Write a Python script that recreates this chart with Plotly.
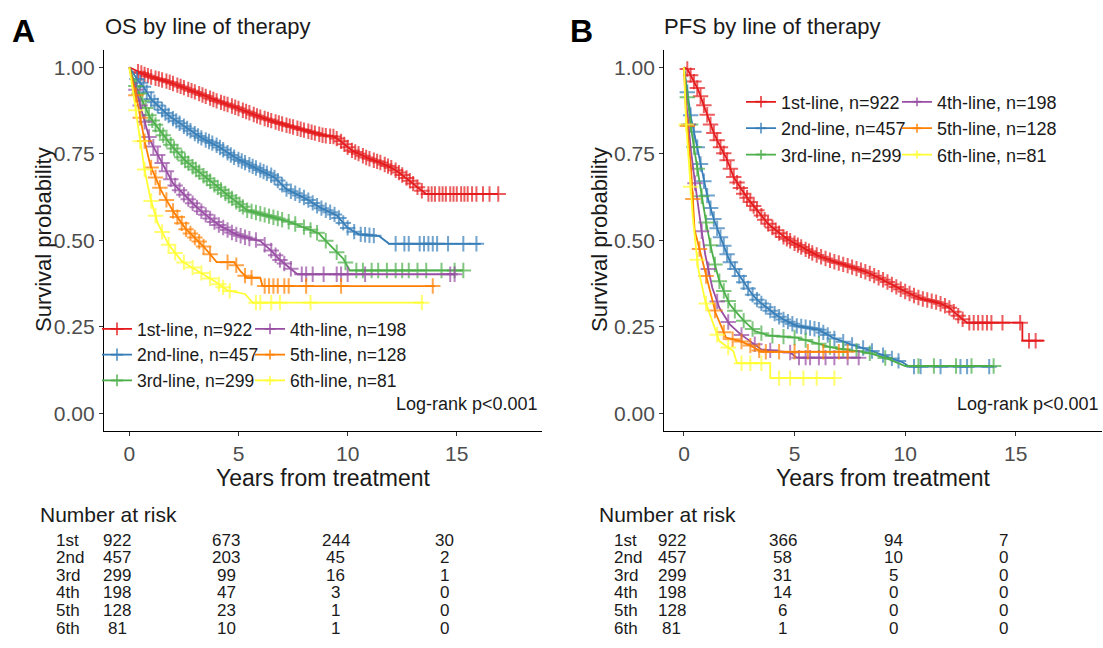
import numpy as np
import plotly.graph_objects as go

FONT = "Liberation Sans, Arial, Helvetica, sans-serif"
W, H = 1103, 648

# ---------------- data ----------------
groups = ["1st-line, n=922", "2nd-line, n=457", "3rd-line, n=299",
          "4th-line, n=198", "5th-line, n=128", "6th-line, n=81"]
colors = ["#E41A1C", "#377EB8", "#4DAF4A", "#984EA3", "#FF7F00", "#FFFF33"]
risk_rows = ["1st", "2nd", "3rd", "4th", "5th", "6th"]
risk_times = [0, 5, 10, 15]
os_risk = [[922, 673, 244, 30], [457, 203, 45, 2], [299, 99, 16, 1],
           [198, 47, 3, 0], [128, 23, 1, 0], [81, 10, 1, 0]]
pfs_risk = [[922, 366, 94, 7], [457, 58, 10, 0], [299, 31, 5, 0],
            [198, 14, 0, 0], [128, 6, 0, 0], [81, 1, 0, 0]]

# OS curves (years, survival probability)
os_1st_t = [0, 0.3, 1.0, 1.7, 2.1, 3.2, 4.0, 4.8, 6.0, 6.9, 7.8, 8.9, 9.35, 9.7, 10.1, 10.9, 11.5, 12.1, 12.7, 13.3, 13.6, 16.9]
os_1st_s = [1.0, 0.99, 0.972, 0.96, 0.951, 0.924, 0.903, 0.886, 0.856, 0.838, 0.822, 0.803, 0.80, 0.786, 0.763, 0.738, 0.725, 0.707, 0.68, 0.648, 0.634, 0.634]
os_2nd_t = [0, 0.3, 0.64, 0.97, 1.7, 2.4, 3.24, 4.0, 4.8, 5.8, 6.6, 7.2, 8.06, 8.7, 9.5, 10.0, 10.5, 11.45, 11.9, 16.1]
os_2nd_s = [1.0, 0.97, 0.945, 0.91, 0.865, 0.834, 0.798, 0.775, 0.74, 0.709, 0.685, 0.648, 0.622, 0.596, 0.572, 0.536, 0.518, 0.512, 0.49, 0.49]
os_3rd_t = [0, 0.2, 0.48, 0.94, 1.71, 2.47, 3.24, 4.0, 4.77, 5.4, 6.29, 7.2, 8.1, 8.7, 9.35, 9.8, 10.1, 15.3]
os_3rd_s = [1.0, 0.96, 0.92, 0.856, 0.79, 0.735, 0.695, 0.655, 0.618, 0.587, 0.572, 0.556, 0.536, 0.519, 0.475, 0.447, 0.413, 0.413]
os_4th_t = [0, 0.15, 0.33, 0.64, 0.94, 1.4, 2.0, 2.6, 3.24, 4.0, 4.77, 5.5, 6.0, 6.45, 6.9, 7.3, 7.7, 14.9]
os_4th_s = [1.0, 0.96, 0.93, 0.856, 0.79, 0.735, 0.665, 0.625, 0.587, 0.548, 0.52, 0.505, 0.498, 0.474, 0.443, 0.423, 0.402, 0.402]
os_5th_t = [0, 0.16, 0.4, 0.65, 0.97, 1.45, 1.94, 2.6, 3.24, 3.7, 4.0, 4.8, 5.1, 5.4, 6.0, 6.1, 14.0]
os_5th_s = [1.0, 0.96, 0.89, 0.80, 0.715, 0.645, 0.59, 0.532, 0.494, 0.46, 0.437, 0.437, 0.41, 0.392, 0.392, 0.368, 0.368]
os_6th_t = [0, 0.16, 0.4, 0.65, 0.97, 1.3, 1.77, 2.4, 3.2, 4.0, 4.5, 5.3, 5.65, 13.5]
os_6th_s = [1.0, 0.94, 0.83, 0.72, 0.62, 0.55, 0.49, 0.44, 0.41, 0.378, 0.355, 0.345, 0.32, 0.32]

# OS censoring times
os_1st_cens = [0.4, 0.55, 0.7, 0.85, 1.0, 1.2, 1.35, 1.5, 1.7, 1.85, 2.0, 2.2, 2.35, 2.5, 2.7, 2.85, 3.0, 3.2, 3.35, 3.5, 3.7, 3.85, 4.0, 4.2, 4.35, 4.5, 4.7, 4.85, 5.0, 5.2, 5.35, 5.5, 5.7, 5.85, 6.0, 6.2, 6.35, 6.5, 6.7, 6.85, 7.0, 7.2, 7.35, 7.5, 7.7, 7.85, 8.0, 8.2, 8.35, 8.5, 8.7, 8.85, 9.0, 9.2, 9.35, 9.5, 9.7, 9.85, 10.0, 10.2, 10.35, 10.5, 10.7, 10.85, 11.0, 11.2, 11.35, 11.5, 11.7, 11.85, 12.0, 12.2, 12.35, 12.5, 12.7, 12.85, 13.0, 13.2, 13.4, 13.7, 13.85, 14.0, 14.2, 14.35, 14.5, 14.7, 14.85, 15.0, 15.2, 15.35, 15.5, 15.7, 15.9, 16.2, 16.5, 16.9]
os_2nd_cens = [0.35, 0.5, 0.65, 0.8, 1.0, 1.15, 1.3, 1.5, 1.65, 1.8, 2.0, 2.15, 2.3, 2.5, 2.65, 2.8, 3.0, 3.15, 3.3, 3.5, 3.65, 3.8, 4.0, 4.15, 4.3, 4.5, 4.65, 4.8, 5.0, 5.15, 5.3, 5.5, 5.65, 5.8, 6.0, 6.15, 6.3, 6.5, 6.65, 6.8, 7.0, 7.2, 7.4, 7.6, 7.8, 8.0, 8.2, 8.4, 8.6, 8.8, 9.0, 9.2, 9.4, 9.6, 9.8, 10.0, 10.3, 10.6, 10.8, 11.0, 11.2, 12.2, 12.6, 12.8, 13.3, 13.5, 13.7, 13.9, 14.1, 14.6, 15.3, 15.9]
os_3rd_cens = [0.3, 0.45, 0.6, 0.75, 0.9, 1.05, 1.2, 1.4, 1.55, 1.7, 1.9, 2.05, 2.2, 2.4, 2.55, 2.7, 2.9, 3.05, 3.2, 3.4, 3.55, 3.7, 3.9, 4.05, 4.2, 4.4, 4.55, 4.7, 4.9, 5.05, 5.2, 5.4, 5.6, 5.8, 6.0, 6.2, 6.4, 6.6, 6.8, 7.0, 7.3, 7.6, 8.0, 8.3, 8.6, 9.0, 9.5, 9.9, 10.4, 10.7, 11.1, 11.4, 11.8, 12.2, 12.5, 12.8, 13.2, 13.6, 14.3, 14.9, 15.3]
os_4th_cens = [0.3, 0.5, 0.7, 0.9, 1.1, 1.3, 1.5, 1.7, 1.9, 2.1, 2.3, 2.5, 2.7, 2.9, 3.1, 3.3, 3.5, 3.7, 3.9, 4.1, 4.3, 4.5, 4.7, 4.9, 5.1, 5.3, 5.5, 5.8, 6.2, 6.5, 6.7, 6.9, 7.1, 7.4, 7.9, 8.1, 8.4, 8.9, 9.5, 9.7, 10.0, 10.8, 14.7, 14.9]
os_5th_cens = [0.3, 0.5, 0.7, 1.0, 1.2, 1.4, 1.7, 2.0, 2.2, 2.4, 2.6, 2.8, 3.0, 3.2, 3.4, 3.7, 4.5, 4.9, 5.3, 5.6, 6.2, 6.4, 6.6, 6.8, 7.1, 7.3, 8.1, 9.7, 13.9]
os_6th_cens = [0.3, 0.5, 0.7, 1.0, 1.2, 1.5, 1.8, 2.1, 2.5, 2.9, 3.3, 3.7, 4.1, 4.3, 4.6, 5.8, 6.0, 6.5, 6.9, 8.3, 13.4]

# PFS curves
pfs_1st_t = [0, 0.15, 0.32, 0.64, 0.96, 1.28, 1.6, 1.9, 2.23, 2.7, 3.2, 3.8, 4.5, 5.1, 5.9, 6.7, 7.5, 8.3, 9.1, 9.9, 10.7, 11.5, 12.0, 12.4, 12.8, 15.3, 15.3, 16.3]
pfs_1st_s = [1.0, 0.995, 0.975, 0.935, 0.88, 0.82, 0.775, 0.74, 0.685, 0.635, 0.595, 0.548, 0.51, 0.488, 0.46, 0.44, 0.425, 0.407, 0.383, 0.355, 0.332, 0.32, 0.305, 0.282, 0.262, 0.262, 0.21, 0.21]
pfs_2nd_t = [0, 0.1, 0.32, 0.64, 0.96, 1.28, 1.6, 2.07, 2.55, 3.2, 3.83, 4.47, 5.1, 6.06, 6.7, 7.5, 8.3, 9.1, 9.9, 10.2, 14.0]
pfs_2nd_s = [1.0, 0.95, 0.853, 0.757, 0.651, 0.574, 0.517, 0.44, 0.392, 0.334, 0.30, 0.272, 0.253, 0.243, 0.219, 0.20, 0.185, 0.166, 0.147, 0.135, 0.135]
pfs_3rd_t = [0, 0.1, 0.32, 0.64, 0.96, 1.28, 1.6, 2.07, 2.55, 3.2, 3.83, 5.1, 6.7, 8.3, 9.25, 10.0, 14.0]
pfs_3rd_s = [1.0, 0.94, 0.824, 0.69, 0.565, 0.459, 0.382, 0.315, 0.277, 0.238, 0.225, 0.219, 0.19, 0.176, 0.157, 0.137, 0.137]
pfs_4th_t = [0, 0.1, 0.32, 0.64, 0.96, 1.28, 1.6, 2.07, 2.55, 3.2, 3.5, 4.8, 5.1, 8.0]
pfs_4th_s = [1.0, 0.90, 0.757, 0.594, 0.459, 0.363, 0.305, 0.257, 0.229, 0.20, 0.185, 0.176, 0.161, 0.161]
pfs_5th_t = [0, 0.08, 0.32, 0.48, 0.8, 1.1, 1.43, 1.9, 2.55, 3.2, 3.5, 7.4]
pfs_5th_s = [1.0, 0.88, 0.709, 0.53, 0.45, 0.37, 0.29, 0.219, 0.209, 0.19, 0.178, 0.178]
pfs_6th_t = [0, 0.08, 0.24, 0.4, 0.64, 0.96, 1.28, 1.6, 2.23, 2.4, 3.9, 3.9, 6.8]
pfs_6th_s = [1.0, 0.853, 0.709, 0.565, 0.42, 0.325, 0.267, 0.209, 0.18, 0.145, 0.145, 0.102, 0.102]

# PFS censoring times
pfs_1st_cens = [0.15, 0.3, 0.45, 0.6, 0.75, 0.9, 1.05, 1.2, 1.35, 1.5, 1.65, 1.8, 1.95, 2.1, 2.25, 2.4, 2.55, 2.7, 2.85, 3.0, 3.15, 3.3, 3.5, 3.65, 3.8, 4.0, 4.15, 4.3, 4.5, 4.65, 4.8, 5.0, 5.15, 5.3, 5.5, 5.65, 5.8, 6.0, 6.2, 6.4, 6.6, 6.8, 7.0, 7.2, 7.4, 7.6, 7.8, 8.0, 8.2, 8.4, 8.6, 8.8, 9.0, 9.2, 9.4, 9.6, 9.8, 10.0, 10.2, 10.4, 10.6, 10.8, 11.0, 11.2, 11.4, 11.6, 11.8, 12.0, 12.2, 12.4, 12.6, 12.9, 13.1, 13.3, 13.5, 13.7, 13.9, 14.4, 15.2, 15.6, 15.9]
pfs_2nd_cens = [0.15, 0.3, 0.45, 0.6, 0.75, 0.9, 1.05, 1.2, 1.35, 1.5, 1.65, 1.8, 1.95, 2.1, 2.3, 2.5, 2.7, 2.9, 3.1, 3.3, 3.5, 3.7, 3.9, 4.1, 4.3, 4.5, 4.7, 4.9, 5.1, 5.3, 5.5, 5.7, 5.9, 6.1, 6.3, 6.5, 6.8, 7.2, 7.6, 8.1, 8.5, 9.0, 9.4, 9.7, 10.4, 10.7, 11.6, 12.5, 12.8, 13.8]
pfs_3rd_cens = [0.15, 0.3, 0.45, 0.6, 0.8, 1.0, 1.2, 1.4, 1.6, 1.8, 2.0, 2.3, 2.7, 3.1, 3.5, 4.0, 4.5, 5.0, 5.5, 6.1, 6.6, 7.2, 7.8, 8.4, 9.1, 10.6, 11.3, 12.3, 13.0, 14.0]
pfs_4th_cens = [0.2, 0.5, 0.8, 1.1, 1.5, 2.0, 2.6, 3.2, 3.9, 4.8, 5.2, 5.5, 5.7, 6.1, 6.4, 6.8, 7.4, 7.9]
pfs_5th_cens = [0.15, 0.4, 0.7, 1.0, 1.4, 1.8, 2.2, 2.6, 3.0, 3.4, 3.7, 4.3, 5.0, 5.6, 6.3, 7.0, 7.4]
pfs_6th_cens = [0.1, 0.3, 0.6, 1.0, 1.5, 2.0, 2.6, 3.0, 3.5, 4.3, 4.8, 5.4, 6.0, 6.8]

os_curves = [(os_1st_t, os_1st_s, os_1st_cens), (os_2nd_t, os_2nd_s, os_2nd_cens),
             (os_3rd_t, os_3rd_s, os_3rd_cens), (os_4th_t, os_4th_s, os_4th_cens),
             (os_5th_t, os_5th_s, os_5th_cens), (os_6th_t, os_6th_s, os_6th_cens)]
pfs_curves = [(pfs_1st_t, pfs_1st_s, pfs_1st_cens), (pfs_2nd_t, pfs_2nd_s, pfs_2nd_cens),
              (pfs_3rd_t, pfs_3rd_s, pfs_3rd_cens), (pfs_4th_t, pfs_4th_s, pfs_4th_cens),
              (pfs_5th_t, pfs_5th_s, pfs_5th_cens), (pfs_6th_t, pfs_6th_s, pfs_6th_cens)]

CENS_SIZE = 11

# ---------------- figure ----------------
fig = go.Figure()


def px_x(p):
    return p / W


def px_y(p):
    return 1 - p / H


def merged(t, s, cens):
    """Curve vertices plus censor marks (placed on the curve) as one ordered path."""
    cy = np.interp(cens, t, s)
    pts = [(tt, 0, k, ss, 0) for k, (tt, ss) in enumerate(zip(t, s))]
    pts += [(c, 1, k, y, CENS_SIZE) for k, (c, y) in enumerate(zip(cens, cy))]
    pts.sort(key=lambda p: (p[0], p[1], p[2]))
    return [p[0] for p in pts], [p[3] for p in pts], [p[4] for p in pts]


def add_panel(curves, xa, ya, leg_a, leg_b):
    for i, (t, s, cens) in enumerate(curves):
        xs, ys, sz = merged(t, s, cens)
        fig.add_trace(go.Scatter(
            x=xs, y=ys, mode="lines+markers", name=groups[i],
            legend=leg_a if i < 3 else leg_b,
            line=dict(color=colors[i], width=1.8),
            marker=dict(symbol="cross-thin", size=sz, color=colors[i],
                        line=dict(color=colors[i], width=2.0)),
            xaxis=xa, yaxis=ya, hoverinfo="skip"))


add_panel(os_curves, "x", "y", "legend", "legend2")
add_panel(pfs_curves, "x2", "y2", "legend3", "legend4")

ydom = [px_y(430.7), px_y(50)]
axis_common = dict(showline=True, linecolor="black", linewidth=1.3, ticks="outside",
                   ticklen=4, tickwidth=1.3, tickcolor="#333333", showgrid=False,
                   zeroline=False, tickfont=dict(family=FONT, size=21, color="#4D4D4D"))
yticks = [0, 0.25, 0.5, 0.75, 1.0]
fig.update_layout(
    xaxis=dict(domain=[px_x(104), px_x(541.7)], range=[-1.16, 18.89], anchor="y",
               tickvals=[0, 5, 10, 15], **axis_common),
    yaxis=dict(domain=ydom, range=[-0.05, 1.05], anchor="x", tickvals=yticks,
               ticktext=["%.2f" % v for v in yticks], **axis_common),
    xaxis2=dict(domain=[px_x(664.3), px_x(1102)], range=[-0.89, 18.9], anchor="y2",
                tickvals=[0, 5, 10, 15], **axis_common),
    yaxis2=dict(domain=ydom, range=[-0.05, 1.05], anchor="x2", tickvals=yticks,
                ticktext=["%.2f" % v for v in yticks], **axis_common),
)

leg_common = dict(bgcolor="rgba(0,0,0,0)", xanchor="left",
                  yanchor="middle", orientation="v", tracegroupgap=0, itemclick=False)
fa = dict(family=FONT, size=17.5, color="#1a1a1a")
fb = dict(family=FONT, size=18, color="#1a1a1a")
fig.update_layout(
    legend=dict(x=px_x(97), y=px_y(355), font=fa, **leg_common),
    legend2=dict(x=px_x(250), y=px_y(355), font=fa, **leg_common),
    legend3=dict(x=px_x(741), y=px_y(128.6), font=fb, **leg_common),
    legend4=dict(x=px_x(897), y=px_y(128.6), font=fb, **leg_common),
)

ann = []


def text(x, y, s, size, xanchor="left", color="#1a1a1a", xref="paper", xshift=0, angle=0):
    ann.append(dict(x=x, y=y, xref=xref, yref="paper", text=s, showarrow=False,
                    xanchor=xanchor, yanchor="middle", xshift=xshift, textangle=angle,
                    font=dict(family=FONT, size=size, color=color)))


# panel letters & titles
text(px_x(10), px_y(31), "<b>A</b>", 32, color="black")
text(px_x(103), px_y(27), "OS by line of therapy", 22)
text(px_x(568), px_y(31), "<b>B</b>", 32, color="black")
text(px_x(662), px_y(27), "PFS by line of therapy", 22)
# axis titles
for cx in (43, 599):
    text(px_x(cx), px_y(240), "Survival probability", 22, xanchor="center", angle=-90)
text(px_x(323), px_y(478), "Years from treatment", 23, xanchor="center")
text(px_x(883), px_y(478), "Years from treatment", 23, xanchor="center")
# log-rank
text(px_x(540), px_y(404), "Log-rank p<0.001", 18, xanchor="right")
text(px_x(1101), px_y(404), "Log-rank p<0.001", 18, xanchor="right")

# risk tables
row_y = [540, 557.6, 575.2, 592.8, 610.4, 628]
for (nar_x, lab_x, xr, risk) in ((38, 54, "x", os_risk), (597, 612, "x2", pfs_risk)):
    text(px_x(nar_x), px_y(514), "Number at risk", 21)
    for r, lab in enumerate(risk_rows):
        text(px_x(lab_x), px_y(row_y[r]), lab, 17)
        for c, tm in enumerate(risk_times):
            text(tm, px_y(row_y[r]), str(risk[r][c]), 17, xanchor="center", xref=xr, xshift=-12)

fig.update_layout(annotations=ann, width=W, height=H, margin=dict(l=0, r=0, t=0, b=0),
                  paper_bgcolor="white", plot_bgcolor="white",
                  font=dict(family=FONT))

fig.write_html("out.html", config={"displayModeBar": False},
               post_script="document.body.style.margin='0';document.body.style.overflow='hidden';")
